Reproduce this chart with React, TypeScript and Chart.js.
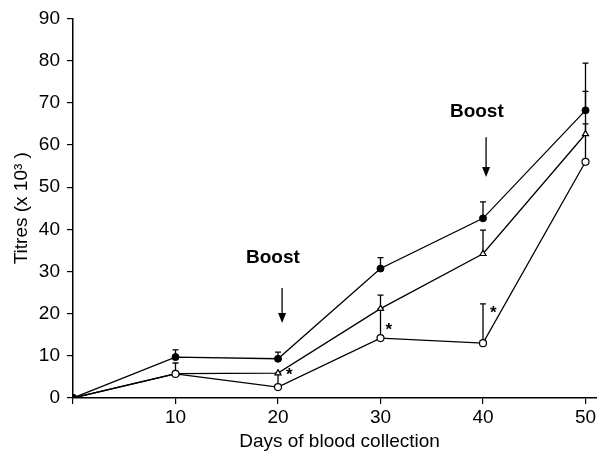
import React, { useEffect, useRef } from 'react';
import { Chart, registerables } from 'chart.js';

Chart.register(...registerables);

const days = [0, 10, 20, 30, 40, 50];
const filledValues = [0, 9.7, 9.3, 30.7, 42.6, 68.2];
const filledErrors = [0, 1.7, 1.6, 2.6, 3.9, 11.2];
const triangleValues = [0, 5.8, 5.9, 21.2, 34.2, 62.6];
const triangleErrors = [0, 2.5, 0, 3.2, 5.6, 10.1];
const openValues = [0, 5.7, 2.6, 14.2, 13.0, 56.0];
const openErrors = [0, 0, 3.3, 7.0, 9.3, 9.0];
const xTickValues = [0, 10, 20, 30, 40, 50];
const yTickValues = [0, 10, 20, 30, 40, 50, 60, 70, 80, 90];
const asteriskX = [21.1, 30.8, 41.0];
const asteriskY = [6.2, 16.8, 20.9];
const boostText = 'Boost';
const boostTextX = [19.5, 39.4];
const boostTextY = [33.2, 67.8];
const arrowX = [20.4, 40.3];
const arrowTopY = [26.1, 61.8];
const arrowBottomY = [17.8, 52.4];
const xTitle = 'Days of blood collection';
const yTitle = 'Titres (x 10\u00B3 )';

const FONT = "'Liberation Sans', Arial, sans-serif";

const annotationPlugin = {
  id: 'annotations',
  beforeDatasetsDraw(chart: any) {
    const { ctx, scales } = chart;
    const x = scales.x;
    const y = scales.y;
    ctx.save();
    ctx.strokeStyle = '#000';
    ctx.lineWidth = 1.3;
    const groups = [
      [filledValues, filledErrors],
      [triangleValues, triangleErrors],
      [openValues, openErrors],
    ];
    groups.forEach(([vals, errs]) => {
      days.forEach((d, i) => {
        if (!errs[i]) return;
        const px = x.getPixelForValue(d);
        const py0 = y.getPixelForValue(vals[i]);
        const py1 = y.getPixelForValue(vals[i] + errs[i]);
        ctx.beginPath();
        ctx.moveTo(px, py0);
        ctx.lineTo(px, py1);
        ctx.moveTo(px - 3, py1);
        ctx.lineTo(px + 3, py1);
        ctx.stroke();
      });
    });
    ctx.restore();
  },
  afterDraw(chart: any) {
    const { ctx, scales } = chart;
    const x = scales.x;
    const y = scales.y;
    ctx.save();
    ctx.fillStyle = '#000';
    ctx.strokeStyle = '#000';
    ctx.font = `bold 19px ${FONT}`;
    ctx.textAlign = 'center';
    ctx.textBaseline = 'middle';
    boostTextX.forEach((bx, i) => {
      ctx.fillText(boostText, x.getPixelForValue(bx), y.getPixelForValue(boostTextY[i]));
      const ax = x.getPixelForValue(arrowX[i]);
      const at = y.getPixelForValue(arrowTopY[i]);
      const ab = y.getPixelForValue(arrowBottomY[i]);
      ctx.lineWidth = 1.3;
      ctx.beginPath();
      ctx.moveTo(ax, at);
      ctx.lineTo(ax, ab - 8);
      ctx.stroke();
      ctx.beginPath();
      ctx.moveTo(ax - 4, ab - 10);
      ctx.lineTo(ax + 4, ab - 10);
      ctx.lineTo(ax, ab);
      ctx.closePath();
      ctx.fill();
    });
    ctx.font = `bold 17px ${FONT}`;
    asteriskX.forEach((sx, i) => {
      ctx.fillText('*', x.getPixelForValue(sx), y.getPixelForValue(asteriskY[i]) + 3);
    });
    ctx.restore();
  },
};

export default function App() {
  const ref = useRef<HTMLCanvasElement>(null);
  useEffect(() => {
    document.body.style.margin = '0';
    const canvas = ref.current!;
    const mkData = (vals: number[]) => days.map((d, i) => ({ x: d, y: vals[i] }));
    const firstBlack = (ctx: any) => (ctx.dataIndex === 0 ? '#000' : '#fff');
    const chart = new Chart(canvas, {
      type: 'line',
      data: {
        datasets: [
          {
            label: 'open circle',
            data: mkData(openValues),
            borderColor: '#000',
            borderWidth: 1.3,
            pointStyle: 'circle',
            pointRadius: 3.5,
            pointBackgroundColor: firstBlack,
            pointBorderColor: '#000',
            pointBorderWidth: 1.2,
            tension: 0,
          },
          {
            label: 'triangle',
            data: mkData(triangleValues),
            borderColor: '#000',
            borderWidth: 1.3,
            pointStyle: 'triangle',
            pointRadius: 3.5,
            pointBackgroundColor: firstBlack,
            pointBorderColor: '#000',
            pointBorderWidth: 1.2,
            tension: 0,
          },
          {
            label: 'filled circle',
            data: mkData(filledValues),
            borderColor: '#000',
            borderWidth: 1.3,
            pointStyle: 'circle',
            pointRadius: 3.5,
            pointBackgroundColor: '#000',
            pointBorderColor: '#000',
            pointBorderWidth: 1,
            tension: 0,
          },
        ],
      },
      options: {
        responsive: false,
        animation: false,
        layout: { padding: { top: 18, right: 12, bottom: 0, left: 0 } },
        plugins: { legend: { display: false }, tooltip: { enabled: false } },
        scales: {
          x: {
            type: 'linear',
            min: 0,
            max: 52,
            afterBuildTicks: (s: any) => {
              s.ticks = xTickValues.map((v) => ({ value: v }));
            },
            afterFit: (s: any) => {
              s.height = 55;
            },
            ticks: {
              color: '#000',
              font: { family: FONT, size: 19 },
              padding: 2,
              maxRotation: 0,
              callback: (v: any) => (v === 0 ? '' : String(v)),
            },
            grid: { drawOnChartArea: false, tickLength: 6, color: '#000', lineWidth: 1.2 },
            border: { color: '#000', width: 1.5 },
            title: {
              display: true,
              text: xTitle,
              color: '#000',
              font: { family: FONT, size: 19 },
              padding: { top: 0, bottom: 0 },
            },
          },
          y: {
            type: 'linear',
            min: 0,
            max: 90,
            afterBuildTicks: (s: any) => {
              s.ticks = yTickValues.map((v) => ({ value: v }));
            },
            afterFit: (s: any) => {
              s.width = 73;
            },
            ticks: {
              color: '#000',
              font: { family: FONT, size: 19 },
              padding: 7,
            },
            grid: { drawOnChartArea: false, tickLength: 6, color: '#000', lineWidth: 1.2 },
            border: { color: '#000', width: 1.5 },
            title: {
              display: true,
              text: yTitle,
              color: '#000',
              font: { family: FONT, size: 19 },
              padding: { top: 10, bottom: 0 },
            },
          },
        },
      },
      plugins: [annotationPlugin],
    });
    return () => chart.destroy();
  }, []);
  return (
    <div
      style={{
        position: 'fixed',
        left: 0,
        top: 0,
        width: 597,
        height: 453,
        overflow: 'hidden',
        background: '#fff',
      }}
    >
      <canvas ref={ref} width={618} height={453} style={{ display: 'block' }} />
    </div>
  );
}
